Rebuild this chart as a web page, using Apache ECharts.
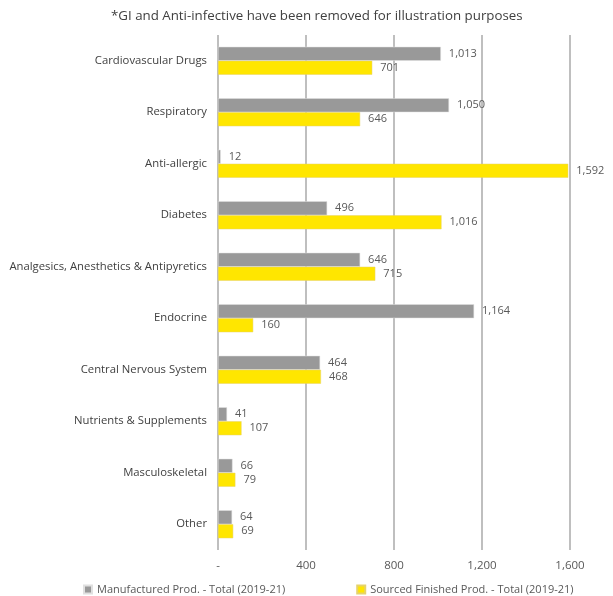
<!DOCTYPE html>
<html>
<head>
<meta charset="utf-8">
<script src="https://cdn.jsdelivr.net/npm/echarts@6/dist/echarts.min.js"></script>
<style>
  html, body { margin: 0; padding: 0; background: #fff; }
  #main { width: 613px; height: 596px; }
</style>
</head>
<body>
<div id="main"></div>
<script>
// categories (top to bottom)
var categories = [
  'Cardiovascular Drugs',
  'Respiratory',
  'Anti-allergic',
  'Diabetes',
  'Analgesics, Anesthetics & Antipyretics',
  'Endocrine',
  'Central Nervous System',
  'Nutrients & Supplements',
  'Masculoskeletal',
  'Other'
]
var manufactured = [1013, 1050, 12, 496, 646, 1164, 464, 41, 66, 64]
var sourced = [701, 646, 1592, 1016, 715, 160, 468, 107, 79, 69]
var xTicks = [0, 400, 800, 1200, 1600]

var fmt = function (v) {
  return v === 0 ? '-' : v.toLocaleString('en-US')
}

var chart = echarts.init(document.getElementById('main'))
chart.setOption({
  animation: false,
  textStyle: { fontFamily: 'Open Sans' },
  title: {
    text: '*GI and Anti-infective have been removed for illustration purposes',
    left: 106,
    top: 5,
    textStyle: { fontSize: 13.3, fontWeight: 'normal', color: '#404040' }
  },
  legend: {
    bottom: 1,
    left: 83,
    width: 530,
    padding: 0,
    itemGap: 71,
    itemWidth: 8,
    itemHeight: 8,
    icon: 'rect',
    textStyle: { fontSize: 11, color: '#595959' },
    data: ['Manufactured Prod. - Total (2019-21)', 'Sourced Finished Prod. - Total (2019-21)']
  },
  grid: { left: 218, right: 43, top: 35, bottom: 46, outerBoundsMode: 'none' },
  xAxis: {
    type: 'value',
    min: xTicks[0],
    max: xTicks[xTicks.length - 1],
    interval: 400,
    axisLine: { show: false },
    axisTick: { show: false },
    axisLabel: { formatter: fmt, color: '#595959', fontSize: 11.5, margin: 10 },
    splitLine: { lineStyle: { color: '#bfbfbf', width: 2 } }
  },
  yAxis: {
    type: 'category',
    data: categories,
    inverse: true,
    axisLine: { show: false },
    axisTick: { show: false },
    axisLabel: { color: '#404040', fontSize: 11.3, margin: 11 }
  },
  series: [
    {
      name: 'Manufactured Prod. - Total (2019-21)',
      type: 'bar',
      data: manufactured,
      barWidth: 14,
      barGap: '0%',
      itemStyle: { color: '#999999', borderColor: '#e0e0e0', borderWidth: 0.5 },
      label: {
        show: true,
        position: 'right',
        distance: 8,
        color: '#595959',
        fontSize: 11,
        formatter: function (p) { return fmt(p.value) }
      }
    },
    {
      name: 'Sourced Finished Prod. - Total (2019-21)',
      type: 'bar',
      data: sourced,
      barWidth: 14,
      itemStyle: { color: '#ffe600', borderColor: '#e6d36b', borderWidth: 0.5 },
      label: {
        show: true,
        position: 'right',
        distance: 8,
        color: '#595959',
        fontSize: 11,
        formatter: function (p) { return fmt(p.value) }
      }
    }
  ]
})
</script>
</body>
</html>
